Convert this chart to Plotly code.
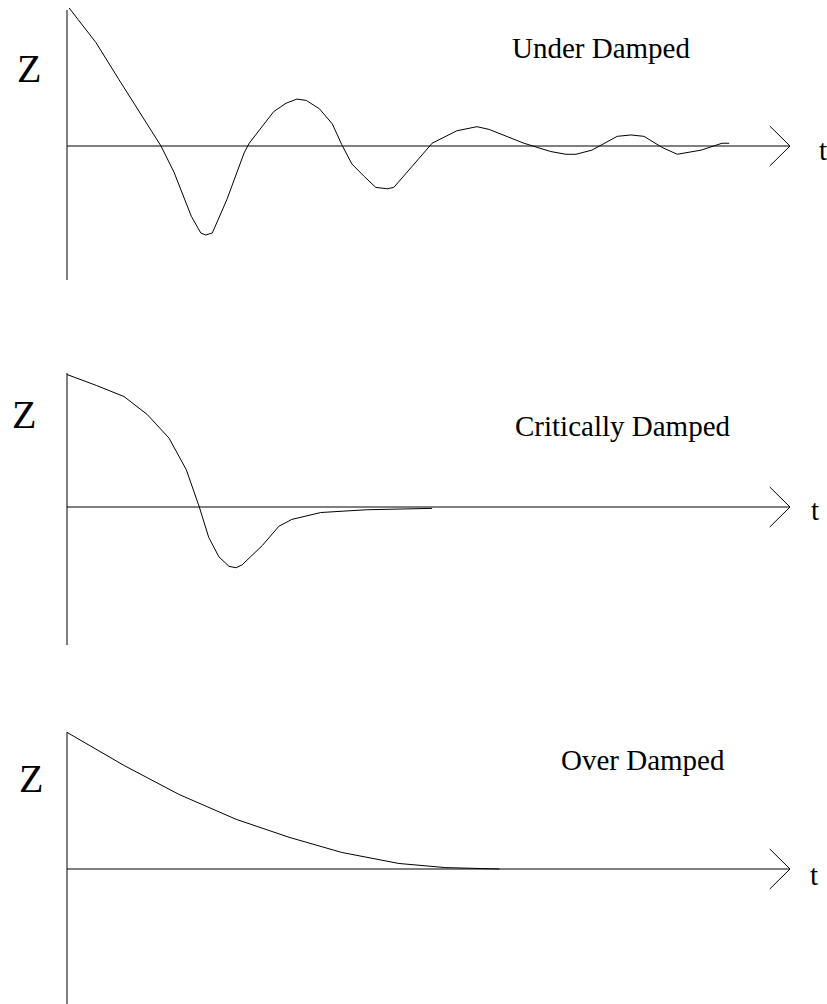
import plotly.graph_objects as go

# ---------------- data ----------------
UNDER_T = [0.03, 0.40, 0.72, 1.30, 1.48, 1.72, 1.85, 1.92, 2.01, 2.21, 2.45, 2.52,
           2.86, 3.03, 3.18, 3.31, 3.49, 3.67, 3.80, 3.94, 4.11, 4.27, 4.43, 4.52,
           4.77, 4.90, 5.05, 5.39, 5.67, 5.84, 6.32, 6.69, 6.90, 7.04, 7.26, 7.61,
           7.80, 7.98, 8.23, 8.44, 8.77, 9.06, 9.16]
UNDER_Z = [1.00, 0.75, 0.48, 0.00, -0.19, -0.51, -0.63, -0.645, -0.63, -0.39, -0.05, 0.02,
           0.25, 0.31, 0.34, 0.33, 0.27, 0.16, 0.01, -0.13, -0.22, -0.30, -0.31, -0.30,
           -0.15, -0.07, 0.02, 0.11, 0.14, 0.12, 0.02, -0.04, -0.06, -0.06, -0.03, 0.07,
           0.08, 0.07, -0.01, -0.06, -0.03, 0.02, 0.02]

CRIT_T = [0.00, 0.41, 0.79, 1.11, 1.41, 1.65, 1.83, 1.96, 2.10, 2.24, 2.34, 2.42,
          2.70, 2.93, 3.11, 3.51, 4.14, 5.05]
CRIT_Z = [0.96, 0.88, 0.80, 0.67, 0.50, 0.27, 0.00, -0.22, -0.36, -0.43, -0.44, -0.42,
          -0.28, -0.14, -0.09, -0.04, -0.02, -0.01]

OVER_T = [0.00, 0.79, 1.55, 2.34, 3.07, 3.80, 4.59, 5.24, 5.98]
OVER_Z = [0.99, 0.75, 0.54, 0.36, 0.23, 0.12, 0.04, 0.01, 0.00]

TITLES = ["Under Damped", "Critically Damped", "Over Damped"]
Y_LABEL = "Z"
X_LABEL = "t"

# ---------------- layout constants ----------------
W, H = 827, 1004
X0_PX = 67.0          # pixel column of t = 0
PX_PER_T = 72.3       # pixels per t unit
PX_PER_Z = 138.0      # pixels per Z unit
FONT = "Liberation Serif, Times New Roman, serif"

# each panel: (top px, bottom px, zero-line px)
PANELS = [(0, 330, 146), (330, 690, 507), (690, 1004, 869)]
AXIS_Z = [(0.986, -0.971), (0.971, -1.0), (0.993, -0.99)]   # vertical axis extent
T_END = 10.0
ARROW_DT, ARROW_DZ = 0.28, 0.145

TITLE_POS = [(6.13, 0.71), (6.17, 0.59), (6.80, 0.79)]
ZLAB_POS = [(-0.526, 0.565), (-0.60, 0.667), (-0.498, 0.659)]
TLAB_POS = [(10.45, -0.03), (10.35, -0.025), (10.33, -0.04)]

series = [(UNDER_T, UNDER_Z), (CRIT_T, CRIT_Z), (OVER_T, OVER_Z)]

fig = go.Figure()
x_range = [(0 - X0_PX) / PX_PER_T, (W - X0_PX) / PX_PER_T]

layout = dict(width=W, height=H, margin=dict(l=0, r=0, t=0, b=0),
              paper_bgcolor="white", plot_bgcolor="white", showlegend=False)
shapes, annotations = [], []

for i, ((top, bot, zero), (tt, zz)) in enumerate(zip(PANELS, series)):
    k = "" if i == 0 else str(i + 1)
    xa, ya = "x" + k, "y" + k
    layout["xaxis" + k] = dict(range=x_range, domain=[0, 1], visible=False,
                               fixedrange=True, anchor=ya)
    layout["yaxis" + k] = dict(range=[(zero - bot) / PX_PER_Z, (zero - top) / PX_PER_Z],
                               domain=[1 - bot / H, 1 - top / H], visible=False,
                               fixedrange=True, anchor=xa)
    fig.add_trace(go.Scatter(x=tt, y=zz, mode="lines", xaxis=xa, yaxis=ya,
                             line=dict(color="black", width=1), hoverinfo="skip"))
    # axes drawn as lines
    shapes.append(dict(type="line", xref=xa, yref=ya, x0=0, x1=0,
                       y0=AXIS_Z[i][0], y1=AXIS_Z[i][1], line=dict(color="black", width=1)))
    shapes.append(dict(type="line", xref=xa, yref=ya, x0=0, x1=T_END, y0=0, y1=0,
                       line=dict(color="black", width=1)))
    shapes.append(dict(type="path", xref=xa, yref=ya,
                       path=f"M {T_END-ARROW_DT},{ARROW_DZ} L {T_END},0 L {T_END-ARROW_DT},{-ARROW_DZ}",
                       line=dict(color="black", width=1)))
    annotations.append(dict(text=TITLES[i], x=TITLE_POS[i][0], y=TITLE_POS[i][1],
                            xref=xa, yref=ya, xanchor="left", yanchor="middle",
                            showarrow=False, font=dict(family=FONT, size=29, color="black")))
    annotations.append(dict(text=Y_LABEL, x=ZLAB_POS[i][0], y=ZLAB_POS[i][1],
                            xref=xa, yref=ya, xanchor="center", yanchor="middle",
                            showarrow=False, font=dict(family=FONT, size=40, color="black")))
    annotations.append(dict(text=X_LABEL, x=TLAB_POS[i][0], y=TLAB_POS[i][1],
                            xref=xa, yref=ya, xanchor="center", yanchor="middle",
                            showarrow=False, font=dict(family=FONT, size=29, color="black")))

layout["shapes"] = shapes
layout["annotations"] = annotations
fig.update_layout(**layout)
fig.write_html("out.html", config={"displayModeBar": False},
               post_script="document.body.style.margin='0';document.body.style.padding='0';")
